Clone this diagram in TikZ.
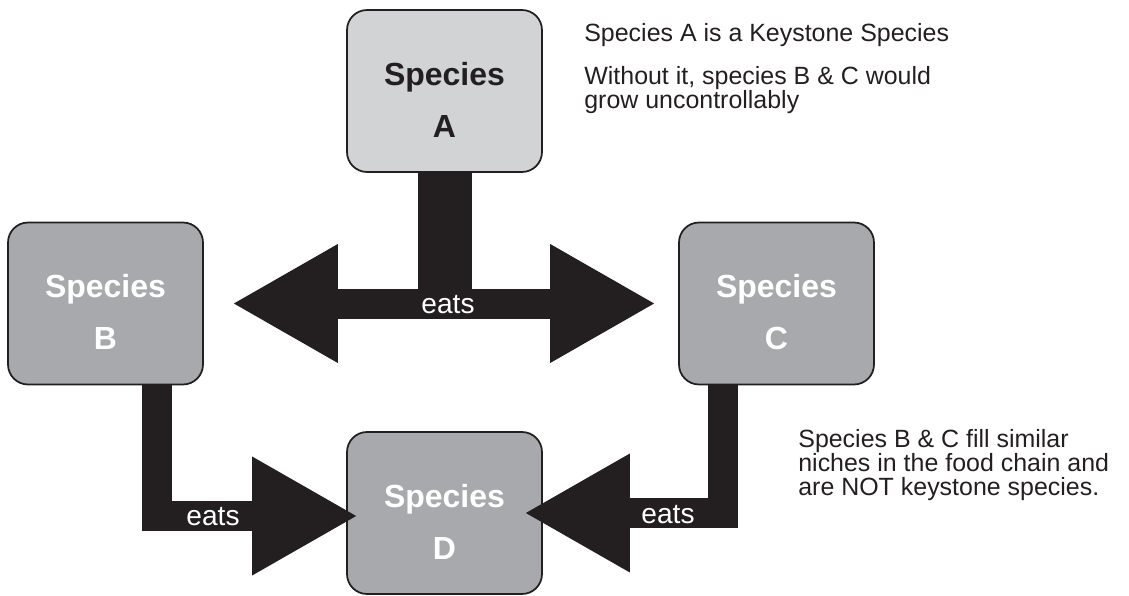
\documentclass[tikz,border=0pt]{standalone}
\usepackage{fontspec}
\setmainfont{Liberation Sans}
\usetikzlibrary{calc,arrows.meta}

\definecolor{boxlight}{HTML}{D1D3D4}
\definecolor{boxdark}{HTML}{A7A9AC}
\definecolor{ink}{HTML}{231F20}

\begin{document}
\begin{tikzpicture}[x=0.02cm, y=-0.02cm, line join=miter,
    >={Triangle[length=2.08cm, width=2.38cm, line width=0pt]},
    species/.style={draw=ink, line width=1pt, rounded corners=0.4cm,
      minimum width=3.9cm, minimum height=3.24cm, align=center,
      font=\fontsize{18.2}{29.5}\selectfont\bfseries,
      execute at begin node=\rule{0pt}{1.85cm}},
    keystone/.style={species, fill=boxlight, text=ink},
    prey/.style={species, fill=boxdark, text=white},
    band/.style={draw=ink, line width=0.6cm},
    eats/.style={text=white, inner sep=0pt, font=\fontsize{16}{16}\selectfont},
    note/.style={text=ink, inner sep=0pt, anchor=north west, align=left,
      font=\fontsize{14.2}{13.6}\selectfont}]
    \useasboundingbox (0,0) rectangle (1129,595);

    \node[keystone] (A) at (444.5, 91) {Species\\A};
    \node[prey] (B) at (105.5, 303.5) {Species\\B};
    \node[prey] (C) at (776.5, 303.5) {Species\\C};
    \node[prey] (D) at (444.5, 513) {Species\\D};

    % A feeds on B and C
    \fill[ink] ($(A.south)+(-27,0)$) rectangle ($(A.south |- B.east)+(27,15)$);
    \draw[band, <->, shorten <=0.6cm, shorten >=0.48cm] (B.east) -- (C.west);
    \node[eats] (eatsA) at (448, 304.5) {eats};

    % B and C feed on D
    \draw[band, ->, shorten >=-0.2cm] ([xshift=1.04cm]B.south) |- ([yshift=-0.06cm]D.west);
    \draw[band, ->, shorten >=-0.34cm] ([xshift=-1.07cm]C.south) |- (D.east);
    \node[eats] (eatsB) at (213, 517) {eats};
    \node[eats] (eatsC) at (668, 514.5) {eats};

    \node[note] (keystone) at (584, 23) {Species A is a Keystone Species};
    \node[note] (without) at (584, 66) {Without it, species B \& C would\\grow uncontrollably};
    \node[note] (niches) at (798, 429) {Species B \& C fill similar\\niches in the food chain and\\are NOT keystone species.};
\end{tikzpicture}
\end{document}
